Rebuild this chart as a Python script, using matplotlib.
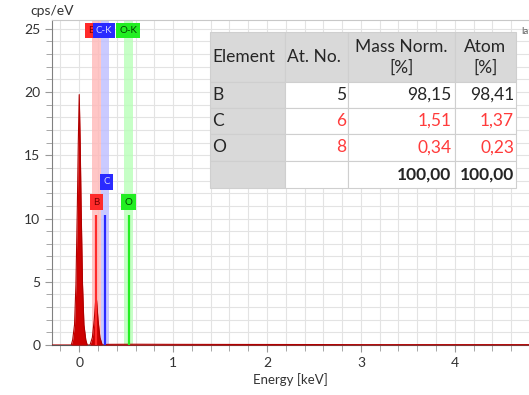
import matplotlib
matplotlib.use("Agg")
import matplotlib.pyplot as plt
from matplotlib.ticker import MultipleLocator

plt.rcParams['font.family'] = ['Lato', 'DejaVu Sans']

# spectrum (keV, cps/eV)
energy = [-0.29, -0.085, -0.07, -0.05, -0.035, -0.02, -0.01, 0.0, 0.01, 0.02,
          0.035, 0.05, 0.07, 0.085, 0.115, 0.14, 0.16, 0.175, 0.18, 0.185,
          0.2, 0.22, 0.245, 0.3, 0.6, 1.0, 2.0, 3.0, 4.0, 4.8]
counts = [0.0, 0.0, 0.4, 1.6, 4.8, 11.0, 16.0, 19.8, 16.0, 11.0,
          4.8, 1.6, 0.4, 0.0, 0.0, 0.6, 2.0, 3.5, 3.8, 3.5,
          2.0, 0.6, 0.0, 0.05, 0.06, 0.05, 0.04, 0.03, 0.03, 0.03]

# element lines
elements = ['B', 'C', 'O']
line_kev = [0.183, 0.277, 0.525]
line_colors = ['#ff2a2a', '#2a2aff', '#22ee22']
band_colors = ['#ffb8b8', '#bdbdff', '#b8ffb8']
label_text_colors = ['#7a0000', '#d8d8ff', '#004000']
line_height = 10.3
label_y = [11.3, 12.9, 11.3]
label_x = [0.183, 0.29, 0.525]
top_labels = ['B', 'C-K', 'O-K']
top_label_x = [0.128, 0.266, 0.52]

# quantification table
col_labels = ['Element', 'At. No.', 'Mass Norm.\n[%]', 'Atom\n[%]']
tab_elements = ['B', 'C', 'O', '']
at_no = ['5', '6', '8', '']
mass_norm = ['98,15', '1,51', '0,34', '100,00']
atom_pct = ['98,41', '1,37', '0,23', '100,00']

fig = plt.figure(figsize=(5.29, 3.95), dpi=100)
ax = fig.add_axes([52 / 529, 1 - 345 / 395, 477 / 529, 325 / 395])

ax.set_xlim(-0.29, 4.79)
ax.set_ylim(0, 25.7)

# bands
for x, c in zip(line_kev, band_colors):
    ax.axvspan(x - 0.045, x + 0.045, color=c, alpha=0.8, lw=0, zorder=1)

# spectrum
ax.fill_between(energy, counts, color='#cc0000', lw=0, zorder=3)
ax.plot(energy, counts, color='#b00000', lw=0.8, zorder=3)

# element marker lines and labels
for i, el in enumerate(elements):
    ax.vlines(line_kev[i], 0, line_height, color=line_colors[i], lw=1.6, zorder=4)
    ax.text(label_x[i], label_y[i], el, ha='center', va='center', fontsize=7,
            color=label_text_colors[i], zorder=6,
            bbox=dict(boxstyle='square,pad=0.35', fc=line_colors[i], ec='none'))
for i, lab in enumerate(top_labels):
    ax.text(top_label_x[i], 24.85, lab, ha='center', va='center', fontsize=7,
            color=label_text_colors[i], zorder=6 + i,
            bbox=dict(boxstyle='square,pad=0.3', fc=line_colors[i], ec='none'))

# grid, ticks, spines
ax.xaxis.set_major_locator(MultipleLocator(1))
ax.xaxis.set_minor_locator(MultipleLocator(0.2))
ax.yaxis.set_major_locator(MultipleLocator(5))
ax.yaxis.set_minor_locator(MultipleLocator(1))
ax.grid(which='both', color='#e3e3e3', lw=0.8, zorder=0)
ax.set_axisbelow(True)
ax.tick_params(which='both', colors='#999999', labelcolor='#333333', labelsize=10)
ax.tick_params(which='major', length=5)
ax.tick_params(which='minor', length=4)
for s in ['left', 'bottom']:
    ax.spines[s].set_color('#808080')
ax.spines['bottom'].set_color('#555555')
ax.spines['top'].set_color('#c8c8c8')
ax.spines['right'].set_visible(False)

ax.set_xlabel('Energy [keV]', fontsize=9.5, color='#333333', labelpad=3)
fig.text(30 / 529, 1 - 11 / 395, 'cps/eV', fontsize=10, color='#333333',
         ha='left', va='center')
fig.text(521 / 529, 1 - 31 / 395, 'la', fontsize=7, color='#606060',
         ha='left', va='center')

# table
cell_text = [[e, a, m, t] for e, a, m, t in zip(tab_elements, at_no, mass_norm, atom_pct)]
col_w = [75, 63, 106, 61]
row_h = [50, 26, 26, 27, 27]
gray = '#d9d9d9'
cell_colors = [[gray, 'white', 'white', 'white'] for _ in cell_text]
tbl = ax.table(cellText=cell_text, colLabels=col_labels, cellColours=cell_colors,
               colColours=[gray] * 4, cellLoc='right',
               bbox=[158 / 477, (345 - 188) / 325, 306 / 477, 156 / 325])
tbl.auto_set_font_size(False)
tbl.set_zorder(10)
for (r, c), cell in tbl.get_celld().items():
    cell.set_width(col_w[c])
    cell.set_height(row_h[r])
    cell.set_edgecolor('#cfcfcf')
    cell.set_linewidth(0.8)
    cell.PAD = 0.03
    txt = cell.get_text()
    txt.set_fontsize(12.5)
    txt.set_color('#262626')
    if r == 0:
        loc = 'left' if c < 2 else 'center'
        txt.set_linespacing(1.35)
    elif c == 0:
        loc = 'left'
    else:
        loc = 'right'
        if r in (2, 3):
            txt.set_color('#ff3b3b')
        if r == 4:
            txt.set_fontweight('bold')
    cell._loc = loc
    txt.set_horizontalalignment(loc)

fig.savefig('out.png', dpi=100)
